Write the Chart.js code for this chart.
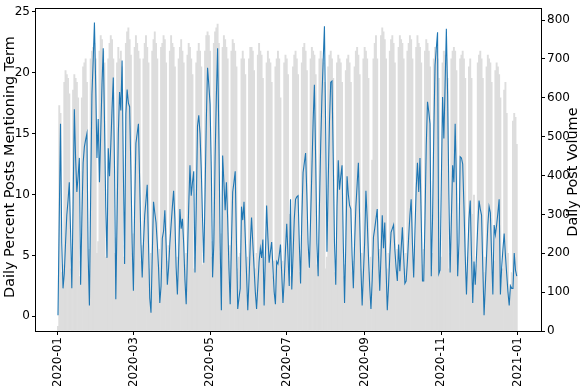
<!DOCTYPE html>
<html>
<head>
<meta charset="utf-8">
<script src="https://cdn.jsdelivr.net/npm/chart.js@4/dist/chart.umd.min.js"></script>
<style>
  html, body { margin: 0; padding: 0; background: #fff; }
  #wrap { width: 580px; height: 386px; }
</style>
</head>
<body>
<div id="wrap"><canvas id="c" width="580" height="386"></canvas></div>
<script>
// ---- data ----
const startDate = '2020-01-01';
const dayCount = 366;

// Daily percent of posts mentioning the term (left axis)
const percentMentioning = [
  0.1, 8, 15.8, 6, 2.3, 3.5, 6, 8.3, 9.5, 11,
  7, 2.3, 9, 17, 13, 10.2, 11.5, 13, 2.6, 8,
  12.6, 13.9, 14.5, 15, 5, 0.9, 10, 18.2, 21, 24.1,
  19, 13, 16.2, 11, 15, 19, 22, 16, 9, 4.8,
  13.8, 11.5, 14, 17, 19.6, 12, 1.4, 8, 15, 18.4,
  16.9, 21, 12, 4.3, 16.6, 18.6, 17.5, 17.2, 12, 6,
  2.1, 9, 14.2, 15, 15.8, 11, 6, 3.2, 6, 8.3,
  9.5, 10.8, 6, 1.5, 0.3, 5, 9.4, 8.5, 7.7, 6,
  4, 1.1, 2.5, 6.4, 7, 8.7, 6, 2.6, 4, 6,
  7.5, 9, 10.3, 8, 4, 1.8, 5, 8.8, 7.2, 8,
  6, 3, 1, 5, 9, 12.4, 9.9, 11, 11.9, 3.6,
  9, 15.6, 16.5, 15, 12, 8, 4.4, 10, 16, 20.4,
  19, 17.4, 12, 3.2, 6, 13, 18, 22, 14.8, 6,
  0.5, 13.2, 11, 8.7, 11, 8, 4, 1, 6, 10.2,
  11, 11.9, 6, 0.6, 1.5, 2.3, 9, 7.9, 9.4, 6.5,
  3.5, 0.5, 3, 6, 8.1, 6, 4, 2, 0.6, 2.5,
  4.5, 5.6, 4.8, 6.3, 0.9, 5, 9.1, 6.5, 4.4, 5.3,
  6.1, 4, 2, 1, 4.5, 4.3, 5, 5.9, 3.5, 1.1,
  3, 5.5, 7.6, 5, 2.5, 9.6, 2.2, 5, 8, 9.6,
  9.8, 9.9, 6, 2.7, 8, 11.8, 12.6, 13.4, 10, 6,
  4, 8, 12, 16, 19, 13, 6, 3.3, 9, 14,
  18, 21, 23.8, 15, 5.3, 11, 16, 19.2, 19.3, 13,
  6, 2.6, 9, 12.8, 10.4, 11.5, 12.4, 6, 1.1, 6,
  11.5, 10, 9.1, 8.8, 5, 2.3, 6, 9, 10.8, 12.6,
  8, 4, 0.9, 3.5, 6.1, 10.3, 8, 5, 2.5, 0.6,
  3, 6.5, 7.2, 8, 8.8, 5, 2.1, 5, 8.3, 5.6,
  7.7, 4, 0.5, 2.5, 5, 6.9, 7.2, 7.5, 5.5, 4,
  2.9, 5.9, 3.7, 5.5, 7.3, 5, 2.7, 2.9, 4.5, 6.5,
  8.3, 9.6, 6, 3.2, 7, 10.5, 12.6, 10.2, 13, 8,
  2.9, 2.9, 8, 14, 17.6, 16.8, 15.8, 3.3, 8, 15,
  20.6, 22, 23.3, 3.5, 3.8, 11, 18, 14.6, 19, 23.6,
  18.2, 10, 3.6, 8, 12.4, 11, 15.8, 11, 3.3, 6,
  13.1, 13, 12.5, 9, 5, 1.8, 5, 8, 9.5, 5,
  1.1, 4.5, 2.6, 5, 7.5, 9.5, 8.8, 8.3, 4, 0.1,
  2.5, 5, 7.5, 9, 8.5, 5, 1.8, 7.5, 6.7, 7.5,
  8.5, 9.6, 1.8, 4, 5.5, 6.8, 5, 3.5, 2, 0.9,
  2.5, 2.3, 2.3, 5.2, 3.8, 3.3
];

// Daily post volume (right axis), one row per week starting Wednesday
const postVolume = [
  12, 580, 560, 150, 170, 640, 670,
  660, 650, 610, 160, 190, 620, 660,
  650, 640, 600, 140, 180, 600, 680,
  690, 700, 640, 170, 210, 700, 720,
  730, 740, 700, 200, 230, 720, 760,
  750, 720, 690, 190, 230, 700, 740,
  760, 750, 700, 200, 240, 690, 730,
  700, 720, 680, 190, 220, 740, 770,
  780, 750, 710, 200, 250, 730, 760,
  740, 720, 700, 180, 220, 700, 740,
  760, 730, 690, 160, 200, 720, 750,
  770, 740, 700, 170, 210, 730, 740,
  760, 750, 690, 180, 220, 720, 760,
  740, 730, 680, 150, 190, 700, 730,
  750, 720, 690, 170, 200, 710, 740,
  730, 700, 660, 160, 190, 690, 720,
  740, 720, 680, 170, 210, 720, 760,
  770, 760, 720, 190, 230, 740, 770,
  780, 790, 740, 200, 250, 730, 760,
  750, 730, 700, 180, 220, 720, 750,
  740, 720, 680, 160, 190, 200, 700,
  720, 700, 660, 150, 190, 700, 730,
  730, 720, 670, 160, 200, 710, 740,
  720, 710, 650, 150, 190, 690, 720,
  700, 690, 640, 140, 180, 680, 700,
  720, 700, 600, 150, 180, 690, 710,
  700, 660, 300, 140, 170, 680, 710,
  720, 700, 660, 150, 190, 690, 730,
  740, 720, 670, 160, 200, 700, 730,
  720, 710, 660, 170, 200, 700, 720,
  700, 690, 640, 160, 190, 680, 710,
  720, 700, 650, 150, 180, 690, 710,
  700, 690, 640, 140, 170, 670, 700,
  710, 690, 640, 150, 180, 680, 720,
  730, 710, 660, 160, 200, 700, 730,
  720, 700, 650, 150, 190, 440, 700,
  740, 760, 700, 170, 210, 760, 780,
  770, 750, 700, 160, 200, 720, 750,
  760, 740, 690, 170, 210, 730, 760,
  750, 740, 700, 160, 200, 720, 740,
  760, 750, 700, 180, 220, 730, 760,
  740, 730, 690, 170, 210, 720, 750,
  740, 720, 680, 160, 200, 700, 730,
  720, 700, 650, 150, 190, 690, 720,
  710, 700, 650, 160, 200, 700, 720,
  730, 720, 670, 160, 200, 700, 710,
  720, 700, 650, 150, 190, 680, 700,
  650, 300, 350, 130, 170, 690, 710,
  720, 700, 650, 150, 190, 680, 710,
  700, 690, 640, 140, 180, 670, 690,
  680, 660, 600, 130, 160, 620, 640,
  560, 200, 100, 120, 150, 540, 560,
  550, 480
];

const xTickLabels = ['2020-01', '2020-03', '2020-05', '2020-07', '2020-09', '2020-11', '2021-01'];
const leftTicks = [0, 5, 10, 15, 20, 25];
const rightTicks = [0, 100, 200, 300, 400, 500, 600, 700, 800];
const leftTitle = 'Daily Percent Posts Mentioning Term';
const rightTitle = 'Daily Post Volume';

// ---- build ----
const DAY = 86400000;
const t0 = Date.parse(startDate + 'T00:00:00Z');
const dayOf = (s) => Math.round((Date.parse(s + '-01T00:00:00Z') - t0) / DAY);
const dayIndex = Array.from({length: dayCount}, (_, i) => i);
const xTickValues = xTickLabels.map(dayOf);

const lineData = dayIndex.map((d, i) => ({x: d, y: percentMentioning[i]}));
const barData = dayIndex.map((d, i) => ({x: d, y: postVolume[i]}));

const FONT = '"DejaVu Sans", sans-serif';

const framePlugin = {
  id: 'framePlugin',
  afterDraw(chart) {
    const {ctx, chartArea: a} = chart;
    ctx.save();
    ctx.strokeStyle = '#000';
    ctx.lineWidth = 1;
    ctx.strokeRect(Math.round(a.left) - 0.5, Math.round(a.top) - 0.5,
                   Math.round(a.right - a.left) + 1, Math.round(a.bottom - a.top) + 1);
    ctx.fillStyle = '#000';
    ctx.font = '14.4px ' + FONT;
    ctx.textAlign = 'center';
    ctx.textBaseline = 'middle';
    const cy = (a.top + a.bottom) / 2;
    ctx.save();
    ctx.translate(10, cy - 3);
    ctx.rotate(-Math.PI / 2);
    ctx.fillText(leftTitle, 0, 0);
    ctx.restore();
    ctx.save();
    ctx.translate(573, cy + 2);
    ctx.rotate(-Math.PI / 2);
    ctx.fillText(rightTitle, 0, 0);
    ctx.restore();
    ctx.restore();
  }
};

const tickFont = {family: FONT, size: 12};

new Chart(document.getElementById('c'), {
  type: 'bar',
  data: {
    datasets: [
      {
        type: 'line',
        data: lineData,
        yAxisID: 'y',
        borderColor: '#1f77b4',
        borderWidth: 1.1,
        pointRadius: 0,
        tension: 0,
        fill: false,
        order: 0
      },
      {
        type: 'bar',
        data: barData,
        yAxisID: 'y1',
        backgroundColor: '#dddddd',
        borderWidth: 0,
        barPercentage: 1,
        categoryPercentage: 1,
        order: 1
      }
    ]
  },
  options: {
    responsive: false,
    animation: false,
    devicePixelRatio: 1,
    layout: {padding: {top: 3, left: 0, right: 0, bottom: 0}},
    plugins: {legend: {display: false}, tooltip: {enabled: false}},
    scales: {
      x: {
        type: 'linear',
        min: -17.5,
        max: 384.3,
        offset: false,
        border: {display: false},
        grid: {display: true, drawOnChartArea: false, drawTicks: true, tickLength: 4, tickColor: '#000', offset: false},
        afterBuildTicks: (s) => { s.ticks = xTickValues.map(v => ({value: v})); },
        afterFit: (s) => { s.height = 55; },
        ticks: {
          autoSkip: false, maxRotation: 90, minRotation: 90, padding: 2,
          color: '#000', font: tickFont,
          callback: (v, i) => xTickLabels[i]
        }
      },
      y: {
        position: 'left',
        min: -1.2,
        max: 25.2,
        border: {display: false},
        grid: {display: true, drawOnChartArea: false, drawTicks: true, tickLength: 4, tickColor: '#000'},
        afterBuildTicks: (s) => { s.ticks = leftTicks.map(v => ({value: v})); },
        afterFit: (s) => { s.width = 36; },
        ticks: {padding: 2, color: '#000', font: tickFont}
      },
      y1: {
        position: 'right',
        min: 0,
        max: 828,
        border: {display: false},
        grid: {display: true, drawOnChartArea: false, drawTicks: true, tickLength: 4, tickColor: '#000'},
        afterBuildTicks: (s) => { s.ticks = rightTicks.map(v => ({value: v})); },
        afterFit: (s) => { s.width = 39; },
        ticks: {padding: 2, color: '#000', font: tickFont}
      }
    }
  },
  plugins: [framePlugin]
});
</script>
</body>
</html>
